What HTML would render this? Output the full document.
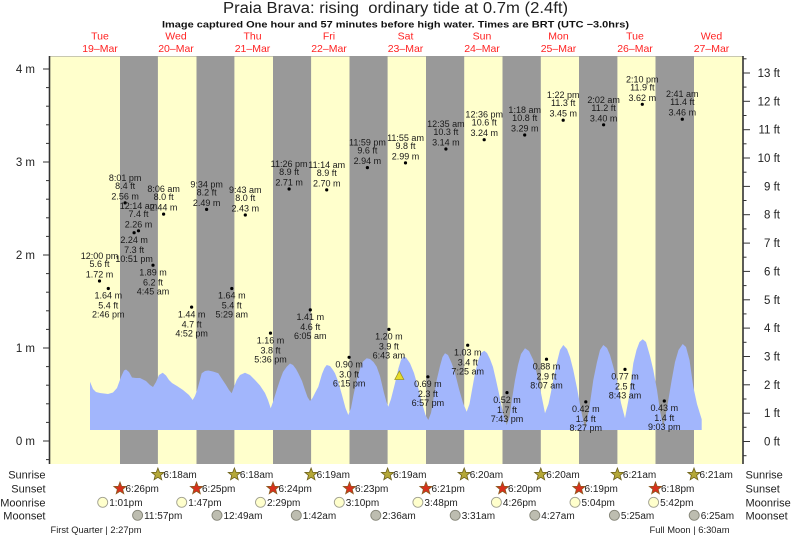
<!DOCTYPE html>
<html><head><meta charset="utf-8"><style>
html,body{margin:0;padding:0;background:#fff;}
svg{display:block;font-family:"Liberation Sans",Arial,sans-serif;}
</style></head><body>
<svg width="793" height="538" viewBox="0 0 793 538" xmlns="http://www.w3.org/2000/svg">
<defs>
<polygon id="star" points="0,-6.5 1.646,-2.265 6.182,-2.009 2.663,0.865 3.821,5.259 0,2.8 -3.821,5.259 -2.663,0.865 -6.182,-2.009 -1.646,-2.265"/>
</defs>
<rect x="0" y="0" width="793" height="538" fill="#fff"/>
<!-- header -->
<text x="395.5" y="13" font-size="15.5" fill="#222" text-anchor="middle" textLength="345" lengthAdjust="spacingAndGlyphs">Praia Brava: rising &#160;ordinary tide at 0.7m (2.4ft)</text>
<text x="395.5" y="27.3" font-size="9.5" font-weight="bold" fill="#111" text-anchor="middle" textLength="467" lengthAdjust="spacingAndGlyphs">Image captured One hour and 57 minutes before high water. Times are BRT (UTC −3.0hrs)</text>
<g font-size="10.5" fill="#f22" text-anchor="middle">
<text x="100" y="39.5">Tue</text><text x="100" y="52">19–Mar</text>
<text x="176" y="39.5">Wed</text><text x="176" y="52">20–Mar</text>
<text x="252.5" y="39.5">Thu</text><text x="252.5" y="52">21–Mar</text>
<text x="329" y="39.5">Fri</text><text x="329" y="52">22–Mar</text>
<text x="405.5" y="39.5">Sat</text><text x="405.5" y="52">23–Mar</text>
<text x="482" y="39.5">Sun</text><text x="482" y="52">24–Mar</text>
<text x="558.5" y="39.5">Mon</text><text x="558.5" y="52">25–Mar</text>
<text x="635" y="39.5">Tue</text><text x="635" y="52">26–Mar</text>
<text x="711.5" y="39.5">Wed</text><text x="711.5" y="52">27–Mar</text>
</g>
<!-- plot background -->
<rect x="49.5" y="56" width="693.5" height="408" fill="#ffffcc"/>
<line x1="49.5" y1="56.5" x2="743" y2="56.5" stroke="#c8c8b0" stroke-width="1"/>
<g fill="#999">
<rect x="120" y="56" width="37.9" height="408"/>
<rect x="196.5" y="56" width="37.9" height="408"/>
<rect x="273" y="56" width="38.1" height="408"/>
<rect x="349.5" y="56" width="38.1" height="408"/>
<rect x="426" y="56" width="38.2" height="408"/>
<rect x="502.5" y="56" width="38.3" height="408"/>
<rect x="579" y="56" width="38.4" height="408"/>
<rect x="655.5" y="56" width="38.5" height="408"/>
</g>
<!-- tide curve -->
<path fill="#a2b6fc" stroke="none" stroke-linejoin="round" d="M90,430 L90,381.7 L93,389 L96,392 L100,393 L108,394 L113,392.5 L117,388 L121,377 L124,370.5 L126,369.5 L129,372 L132,377.5 L136,378 L140,378 L146,381 L150,385 L153,387 L156,382 L159,375 L162.7,372.7 L166,375.5 L169,380 L172,383 L177,386 L183,390 L189,395 L192.7,400 L195,396 L197.5,389 L201.7,373.3 L205,371 L208.3,370.5 L213,371.5 L218.3,373.3 L222,379 L226,385 L229,390 L231.7,393.3 L234,387 L236.7,380 L240,375 L245,372.7 L250,375 L255,380 L260,385.5 L265,393 L268,400 L270.7,408.3 L273,402 L276.7,390 L280,380 L283,372 L286.7,366.7 L290,363.5 L293,365 L296,369 L298.3,373.3 L302,381 L305,390 L307.5,397 L310,401 L312.5,398 L315,393 L318.3,386.7 L322,374 L324.5,368 L326.7,365 L330,366 L333,370 L335,373.3 L338,381 L342,395 L345.5,408 L348.3,415 L351,408 L353.5,395 L356.7,380 L360,369 L363,361.5 L366.7,358.3 L370,359 L373.5,362 L376.7,366.7 L380,376 L384,393 L386.5,402 L388.3,406.7 L391,399 L395,383.3 L398.5,368 L401,360 L403.3,356.7 L406,357.5 L410,363.3 L414,373 L418,387 L422,403 L425.5,415 L428.3,420 L431,413 L434,396 L436.7,380 L440,366 L442.5,357 L445,353.3 L448,355 L451.7,363.3 L455,373 L459,389 L463,403 L466.7,411.7 L469.5,404 L472,390 L475,373.3 L478,361 L481,353 L484.3,350.7 L487,353 L490,359 L493,367 L496,380 L499.5,396 L503,413 L506.7,425 L509.5,417 L512,399 L515,380 L518,365 L521,354 L525,348.3 L529,351 L533.3,360 L537,374 L541,393 L545,413.3 L548.5,404 L551,392 L553.3,380 L556.5,364 L560,350 L563.3,345 L567,349 L570,357 L573.3,370 L577,388 L581,410 L585,428.3 L589,410 L593.3,380 L597,362 L600,350 L603.3,345 L607,348 L610,355 L613.3,366.7 L617,381 L621,403 L625,418.3 L629,397 L633.3,363.3 L636.5,350 L639.5,342 L642.7,339.3 L646,342 L650,356 L653.3,370 L657,390 L660,411 L663.3,426.7 L667,408 L671.7,380 L675,362 L678.5,350 L682.7,344 L686,347 L689.5,360 L693.3,386.7 L697,404 L701.7,419.3 L701.7,430 Z"/>
<!-- high tide labels -->
<g font-size="9" fill="#1a1a1a" text-anchor="middle">
<g transform="translate(99.5,281)"><circle r="1.6" fill="#000"/><text y="-22">12:00 pm</text><text y="-14">5.6 ft</text><text y="-3.5">1.72 m</text></g>
<g transform="translate(125.1,202.9)"><circle r="1.6" fill="#000"/><text y="-22">8:01 pm</text><text y="-14">8.4 ft</text><text y="-3.5">2.56 m</text></g>
<g transform="translate(138.5,230.8)"><circle r="1.6" fill="#000"/><text y="-22">12:14 am</text><text y="-14">7.4 ft</text><text y="-3.5">2.26 m</text></g>
<g transform="translate(163.6,214.1)"><circle r="1.6" fill="#000"/><text y="-22">8:06 am</text><text y="-14">8.0 ft</text><text y="-3.5">2.44 m</text></g>
<g transform="translate(206.6,209.4)"><circle r="1.6" fill="#000"/><text y="-22">9:34 pm</text><text y="-14">8.2 ft</text><text y="-3.5">2.49 m</text></g>
<g transform="translate(245.3,215)"><circle r="1.6" fill="#000"/><text y="-22">9:43 am</text><text y="-14">8.0 ft</text><text y="-3.5">2.43 m</text></g>
<g transform="translate(289.1,189)"><circle r="1.6" fill="#000"/><text y="-22">11:26 pm</text><text y="-14">8.9 ft</text><text y="-3.5">2.71 m</text></g>
<g transform="translate(326.7,189.9)"><circle r="1.6" fill="#000"/><text y="-22">11:14 am</text><text y="-14">8.9 ft</text><text y="-3.5">2.70 m</text></g>
<g transform="translate(367.4,167.6)"><circle r="1.6" fill="#000"/><text y="-22">11:59 pm</text><text y="-14">9.6 ft</text><text y="-3.5">2.94 m</text></g>
<g transform="translate(405.5,162.9)"><circle r="1.6" fill="#000"/><text y="-22">11:55 am</text><text y="-14">9.8 ft</text><text y="-3.5">2.99 m</text></g>
<g transform="translate(445.9,149)"><circle r="1.6" fill="#000"/><text y="-22">12:35 am</text><text y="-14">10.3 ft</text><text y="-3.5">3.14 m</text></g>
<g transform="translate(484.2,139.7)"><circle r="1.6" fill="#000"/><text y="-22">12:36 pm</text><text y="-14">10.6 ft</text><text y="-3.5">3.24 m</text></g>
<g transform="translate(524.7,135)"><circle r="1.6" fill="#000"/><text y="-22">1:18 am</text><text y="-14">10.8 ft</text><text y="-3.5">3.29 m</text></g>
<g transform="translate(563.2,120.2)"><circle r="1.6" fill="#000"/><text y="-22">1:22 pm</text><text y="-14">11.3 ft</text><text y="-3.5">3.45 m</text></g>
<g transform="translate(603.6,124.8)"><circle r="1.6" fill="#000"/><text y="-22">2:02 am</text><text y="-14">11.2 ft</text><text y="-3.5">3.40 m</text></g>
<g transform="translate(642.3,104.3)"><circle r="1.6" fill="#000"/><text y="-22">2:10 pm</text><text y="-14">11.9 ft</text><text y="-3.5">3.62 m</text></g>
<g transform="translate(682.3,119.2)"><circle r="1.6" fill="#000"/><text y="-22">2:41 am</text><text y="-14">11.4 ft</text><text y="-3.5">3.46 m</text></g>
<!-- low tide labels -->
<g transform="translate(108.3,288.5)"><circle r="1.6" fill="#000"/><text y="10.2">1.64 m</text><text y="20.2">5.4 ft</text><text y="29.2">2:46 pm</text></g>
<g transform="translate(134.1,232.7)"><circle r="1.6" fill="#000"/><text y="10.2">2.24 m</text><text y="20.2">7.3 ft</text><text y="29.2">10:51 pm</text></g>
<g transform="translate(153,265.2)"><circle r="1.6" fill="#000"/><text y="10.2">1.89 m</text><text y="20.2">6.2 ft</text><text y="29.2">4:45 am</text></g>
<g transform="translate(191.6,307.1)"><circle r="1.6" fill="#000"/><text y="10.2">1.44 m</text><text y="20.2">4.7 ft</text><text y="29.2">4:52 pm</text></g>
<g transform="translate(231.8,288.5)"><circle r="1.6" fill="#000"/><text y="10.2">1.64 m</text><text y="20.2">5.4 ft</text><text y="29.2">5:29 am</text></g>
<g transform="translate(270.5,333.1)"><circle r="1.6" fill="#000"/><text y="10.2">1.16 m</text><text y="20.2">3.8 ft</text><text y="29.2">5:36 pm</text></g>
<g transform="translate(310.3,309.9)"><circle r="1.6" fill="#000"/><text y="10.2">1.41 m</text><text y="20.2">4.6 ft</text><text y="29.2">6:05 am</text></g>
<g transform="translate(349.1,357.3)"><circle r="1.6" fill="#000"/><text y="10.2">0.90 m</text><text y="20.2">3.0 ft</text><text y="29.2">6:15 pm</text></g>
<g transform="translate(388.9,329.4)"><circle r="1.6" fill="#000"/><text y="10.2">1.20 m</text><text y="20.2">3.9 ft</text><text y="29.2">6:43 am</text></g>
<g transform="translate(427.9,376.8)"><circle r="1.6" fill="#000"/><text y="10.2">0.69 m</text><text y="20.2">2.3 ft</text><text y="29.2">6:57 pm</text></g>
<g transform="translate(467.7,345.2)"><circle r="1.6" fill="#000"/><text y="10.2">1.03 m</text><text y="20.2">3.4 ft</text><text y="29.2">7:25 am</text></g>
<g transform="translate(507,392.6)"><circle r="1.6" fill="#000"/><text y="10.2">0.52 m</text><text y="20.2">1.7 ft</text><text y="29.2">7:43 pm</text></g>
<g transform="translate(546.5,359.2)"><circle r="1.6" fill="#000"/><text y="10.2">0.88 m</text><text y="20.2">2.9 ft</text><text y="29.2">8:07 am</text></g>
<g transform="translate(585.8,401.9)"><circle r="1.6" fill="#000"/><text y="10.2">0.42 m</text><text y="20.2">1.4 ft</text><text y="29.2">8:27 pm</text></g>
<g transform="translate(625,369.4)"><circle r="1.6" fill="#000"/><text y="10.2">0.77 m</text><text y="20.2">2.5 ft</text><text y="29.2">8:43 am</text></g>
<g transform="translate(664.3,401)"><circle r="1.6" fill="#000"/><text y="10.2">0.43 m</text><text y="20.2">1.4 ft</text><text y="29.2">9:03 pm</text></g>
</g>
<!-- current time marker -->
<polygon points="399.3,371 394.8,379.5 403.8,379.5" fill="#e8dc2a" stroke="#9a9420" stroke-width="0.8"/>
<!-- axes -->
<line x1="49.5" y1="56" x2="49.5" y2="464" stroke="#333" stroke-width="1.6"/>
<line x1="743" y1="56" x2="743" y2="464" stroke="#333" stroke-width="1.6"/>
<g stroke="#333" stroke-width="1">
<line x1="43" y1="441" x2="49.5" y2="441"/><line x1="43" y1="348" x2="49.5" y2="348"/><line x1="43" y1="255" x2="49.5" y2="255"/><line x1="43" y1="162" x2="49.5" y2="162"/><line x1="43" y1="69" x2="49.5" y2="69"/>
<line x1="46" y1="459.6" x2="49.5" y2="459.6"/>
<line x1="46" y1="422.4" x2="49.5" y2="422.4"/><line x1="46" y1="403.8" x2="49.5" y2="403.8"/><line x1="46" y1="385.2" x2="49.5" y2="385.2"/><line x1="46" y1="366.6" x2="49.5" y2="366.6"/>
<line x1="46" y1="329.4" x2="49.5" y2="329.4"/><line x1="46" y1="310.8" x2="49.5" y2="310.8"/><line x1="46" y1="292.2" x2="49.5" y2="292.2"/><line x1="46" y1="273.6" x2="49.5" y2="273.6"/>
<line x1="46" y1="236.4" x2="49.5" y2="236.4"/><line x1="46" y1="217.8" x2="49.5" y2="217.8"/><line x1="46" y1="199.2" x2="49.5" y2="199.2"/><line x1="46" y1="180.6" x2="49.5" y2="180.6"/>
<line x1="46" y1="143.4" x2="49.5" y2="143.4"/><line x1="46" y1="124.8" x2="49.5" y2="124.8"/><line x1="46" y1="106.2" x2="49.5" y2="106.2"/><line x1="46" y1="87.6" x2="49.5" y2="87.6"/>
</g>
<g font-size="11.5" fill="#222" text-anchor="end">
<text x="35" y="445">0 m</text><text x="35" y="352">1 m</text><text x="35" y="259">2 m</text><text x="35" y="166">3 m</text><text x="35" y="73">4 m</text>
</g>
<g stroke="#333" stroke-width="1">
<line x1="743" y1="441.5" x2="750" y2="441.5"/><line x1="743" y1="413.2" x2="750" y2="413.2"/><line x1="743" y1="384.8" x2="750" y2="384.8"/><line x1="743" y1="356.5" x2="750" y2="356.5"/><line x1="743" y1="328.1" x2="750" y2="328.1"/><line x1="743" y1="299.8" x2="750" y2="299.8"/><line x1="743" y1="271.4" x2="750" y2="271.4"/><line x1="743" y1="243.1" x2="750" y2="243.1"/><line x1="743" y1="214.7" x2="750" y2="214.7"/><line x1="743" y1="186.4" x2="750" y2="186.4"/><line x1="743" y1="158" x2="750" y2="158"/><line x1="743" y1="129.7" x2="750" y2="129.7"/><line x1="743" y1="101.3" x2="750" y2="101.3"/><line x1="743" y1="73" x2="750" y2="73"/>
<line x1="743" y1="455.7" x2="746.5" y2="455.7"/><line x1="743" y1="427.3" x2="746.5" y2="427.3"/><line x1="743" y1="399" x2="746.5" y2="399"/><line x1="743" y1="370.6" x2="746.5" y2="370.6"/><line x1="743" y1="342.3" x2="746.5" y2="342.3"/><line x1="743" y1="313.9" x2="746.5" y2="313.9"/><line x1="743" y1="285.6" x2="746.5" y2="285.6"/><line x1="743" y1="257.2" x2="746.5" y2="257.2"/><line x1="743" y1="228.9" x2="746.5" y2="228.9"/><line x1="743" y1="200.5" x2="746.5" y2="200.5"/><line x1="743" y1="172.2" x2="746.5" y2="172.2"/><line x1="743" y1="143.8" x2="746.5" y2="143.8"/><line x1="743" y1="115.5" x2="746.5" y2="115.5"/><line x1="743" y1="87.1" x2="746.5" y2="87.1"/><line x1="743" y1="58.8" x2="746.5" y2="58.8"/>
</g>
<g font-size="11.5" fill="#222" text-anchor="end">
<text x="780" y="445.5">0 ft</text><text x="780" y="417.2">1 ft</text><text x="780" y="388.8">2 ft</text><text x="780" y="360.5">3 ft</text><text x="780" y="332.1">4 ft</text><text x="780" y="303.8">5 ft</text><text x="780" y="275.4">6 ft</text><text x="780" y="247.1">7 ft</text><text x="780" y="218.7">8 ft</text><text x="780" y="190.4">9 ft</text><text x="780" y="162">10 ft</text><text x="780" y="133.7">11 ft</text><text x="780" y="105.3">12 ft</text><text x="780" y="77">13 ft</text>
</g>
<!-- sun/moon rows -->
<g font-size="11" fill="#222" text-anchor="end">
<text x="45.5" y="478.5">Sunrise</text><text x="45.5" y="492.5">Sunset</text><text x="45.5" y="506.5">Moonrise</text><text x="45.5" y="519.5">Moonset</text>
</g>
<g font-size="11" fill="#222">
<text x="745.5" y="478.5">Sunrise</text><text x="745.5" y="492.5">Sunset</text><text x="745.5" y="506.5">Moonrise</text><text x="745.5" y="519.5">Moonset</text>
</g>
<g fill="#b5a838" stroke="#6b5f1a" stroke-width="0.8">
<use href="#star" x="157.9" y="474.5"/><use href="#star" x="234.4" y="474.5"/><use href="#star" x="311.1" y="474.5"/><use href="#star" x="387.6" y="474.5"/><use href="#star" x="464.2" y="474.5"/><use href="#star" x="540.8" y="474.5"/><use href="#star" x="617.4" y="474.5"/><use href="#star" x="694" y="474.5"/>
</g>
<g fill="#d8301c" stroke="#8a5a20" stroke-width="0.8">
<use href="#star" x="120" y="488.5"/><use href="#star" x="196.5" y="488.5"/><use href="#star" x="273" y="488.5"/><use href="#star" x="349.5" y="488.5"/><use href="#star" x="426" y="488.5"/><use href="#star" x="502.5" y="488.5"/><use href="#star" x="579" y="488.5"/><use href="#star" x="655.5" y="488.5"/>
</g>
<g fill="#ffffcc" stroke="#a0a090" stroke-width="0.9">
<circle cx="102.7" cy="502.3" r="5"/><circle cx="181.7" cy="502.3" r="5"/><circle cx="260.5" cy="502.3" r="5"/><circle cx="339.3" cy="502.3" r="5"/><circle cx="417.9" cy="502.3" r="5"/><circle cx="496.4" cy="502.3" r="5"/><circle cx="575" cy="502.3" r="5"/><circle cx="653.6" cy="502.3" r="5"/>
</g>
<g fill="#bdbdb0" stroke="#858578" stroke-width="0.9">
<circle cx="137.6" cy="515.3" r="5"/><circle cx="217" cy="515.3" r="5"/><circle cx="296.3" cy="515.3" r="5"/><circle cx="375.8" cy="515.3" r="5"/><circle cx="455.2" cy="515.3" r="5"/><circle cx="534.8" cy="515.3" r="5"/><circle cx="614.4" cy="515.3" r="5"/><circle cx="694.2" cy="515.3" r="5"/>
</g>
<g font-size="10" fill="#222">
<text x="163.4" y="478">6:18am</text><text x="239.9" y="478">6:18am</text><text x="316.6" y="478">6:19am</text><text x="393.1" y="478">6:19am</text><text x="469.7" y="478">6:20am</text><text x="546.3" y="478">6:20am</text><text x="622.9" y="478">6:21am</text><text x="699.5" y="478">6:21am</text>
<text x="125.5" y="492">6:26pm</text><text x="202" y="492">6:25pm</text><text x="278.5" y="492">6:24pm</text><text x="355" y="492">6:23pm</text><text x="431.5" y="492">6:21pm</text><text x="508" y="492">6:20pm</text><text x="584.5" y="492">6:19pm</text><text x="661" y="492">6:18pm</text>
<text x="109.2" y="506">1:01pm</text><text x="188.2" y="506">1:47pm</text><text x="267" y="506">2:29pm</text><text x="345.8" y="506">3:10pm</text><text x="424.4" y="506">3:48pm</text><text x="502.9" y="506">4:26pm</text><text x="581.5" y="506">5:04pm</text><text x="660.1" y="506">5:42pm</text>
<text x="144.1" y="519">11:57pm</text><text x="223.5" y="519">12:49am</text><text x="302.8" y="519">1:42am</text><text x="382.3" y="519">2:36am</text><text x="461.7" y="519">3:31am</text><text x="541.3" y="519">4:27am</text><text x="620.9" y="519">5:25am</text><text x="700.7" y="519">6:25am</text>
</g>
<g font-size="9" fill="#222">
<text x="50.5" y="533" textLength="91" lengthAdjust="spacingAndGlyphs">First Quarter | 2:27pm</text>
<text x="649.5" y="533" textLength="80" lengthAdjust="spacingAndGlyphs">Full Moon | 6:30am</text>
</g>
</svg>
</body></html>
